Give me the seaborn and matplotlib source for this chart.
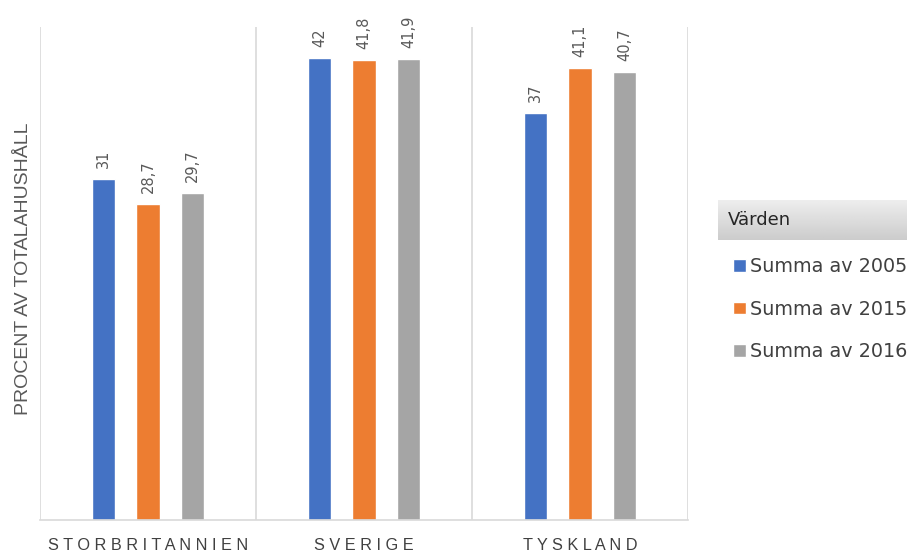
import pandas as pd
import numpy as np
import matplotlib
matplotlib.use("Agg")
import matplotlib.pyplot as plt
import seaborn as sns

# data
countries = ["STORBRITANNIEN", "SVERIGE", "TYSKLAND"]
series = ["Summa av 2005", "Summa av 2015", "Summa av 2016"]
v2005 = [31, 42, 37]
v2015 = [28.7, 41.8, 41.1]
v2016 = [29.7, 41.9, 40.7]
colors = ["#4472C4", "#ED7D31", "#A5A5A5"]

rows = []
for s, vals in zip(series, [v2005, v2015, v2016]):
    for c, v in zip(countries, vals):
        rows.append({"land": c, "serie": s, "procent": v})
df = pd.DataFrame(rows)

sns.set_style("white")
plt.rcParams["font.family"] = ["Liberation Sans", "DejaVu Sans"]

fig = plt.figure(figsize=(9.07, 5.55), dpi=100)
ax = fig.add_axes([40 / 907, 35 / 555, 648 / 907, 493 / 555])

sns.barplot(data=df, x="land", y="procent", hue="serie", palette=colors,
            width=0.62, gap=0.48, ax=ax, saturation=1, legend=True)

for cont in ax.containers:
    labs = [f"{v:g}".replace(".", ",") for v in cont.datavalues]
    ax.bar_label(cont, labels=labs, rotation=90, padding=8,
                 fontsize=10.5, color="#595959", family="DejaVu Sans")

ax.set_ylim(0, 44.8)
ax.set_xlim(-0.5, 2.5)
ax.set_yticks([])
for x in [-0.5, 0.5, 1.5, 2.5]:
    ax.axvline(x, color="#d9d9d9", lw=1.2, zorder=0)
for side in ["top", "right", "left"]:
    ax.spines[side].set_visible(False)
ax.spines["bottom"].set_color("#d9d9d9")
ax.spines["bottom"].set_linewidth(1.2)

ax.set_xticks(range(len(countries)))
ax.set_xticklabels([" ".join(c) for c in countries], fontsize=11.7, color="#404040")
ax.tick_params(axis="x", length=0, pad=13)
ax.set_xlabel("")
ax.set_ylabel("PROCENT AV TOTALAHUSHÅLL", fontsize=14, color="#595959")
ax.yaxis.set_label_coords(-0.012, 0.51)

# legend
handles, labels = ax.get_legend_handles_labels()
ax.get_legend().remove()
fig.legend(handles, labels, loc="upper left",
           bbox_to_anchor=(716 / 907, (555 - 240) / 555), frameon=False,
           handlelength=0.65, handleheight=0.65, handletextpad=0.2,
           labelspacing=1.22, prop={"family": "DejaVu Sans", "size": 13.8},
           labelcolor="#404040")

# legend title with grey gradient band
tax = fig.add_axes([718 / 907, (555 - 240) / 555, 189 / 907, 40 / 555])
grad = np.linspace(0.93, 0.80, 50).reshape(-1, 1)
tax.imshow(grad, cmap="gray", vmin=0, vmax=1, aspect="auto",
           extent=[0, 1, 0, 1])
tax.set_xlim(0, 1)
tax.set_ylim(0, 1)
tax.axis("off")
tax.text(0.053, 0.5, "Värden", fontsize=13, color="#262626", va="center",
         family="DejaVu Sans")

fig.savefig("out.png", dpi=100)
